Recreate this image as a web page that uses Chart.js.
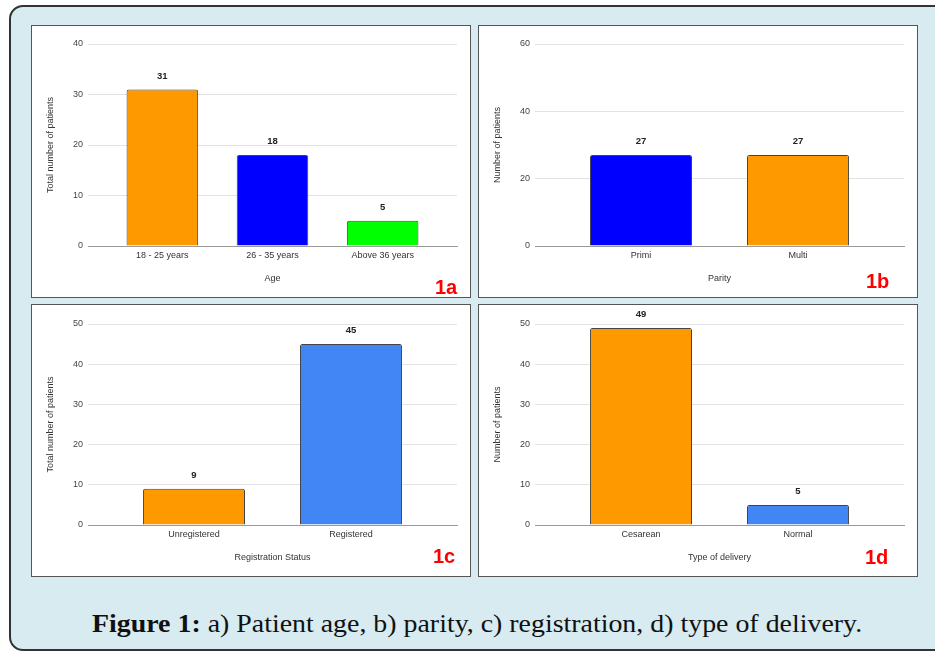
<!DOCTYPE html>
<html>
<head>
<meta charset="utf-8">
<script src="https://cdn.jsdelivr.net/npm/chart.js@4.4.1/dist/chart.umd.min.js"></script>
<style>
  body { margin: 0; width: 935px; height: 651px; overflow: hidden; background: #fff; position: relative; font-family: "Liberation Sans", Arial, sans-serif; }
  #frame { position: absolute; left: 9px; top: 5px; width: 980px; height: 642px; background: #d7ebf0; border: 2px solid #333; border-radius: 14px; }
  .panel { position: absolute; width: 438px; height: 271px; background: #fff; border: 1px solid #555; }
  .panel canvas { display: block; }
  .tag { position: absolute; font: bold 20px "Liberation Sans", Arial, sans-serif; line-height: 20px; color: #f00; }
  #caption { position: absolute; left: 92px; top: 611px; font: 26px "Liberation Serif", "Times New Roman", serif; line-height: 26px; color: #111; white-space: nowrap; transform-origin: 0 0; }
</style>
</head>
<body>
<div id="frame"></div>
<div class="panel" style="left:31px;top:25px"><canvas id="chartA" width="438" height="271"></canvas></div>
<div class="panel" style="left:478px;top:25px"><canvas id="chartB" width="438" height="271"></canvas></div>
<div class="panel" style="left:31px;top:304px"><canvas id="chartC" width="438" height="271"></canvas></div>
<div class="panel" style="left:478px;top:304px"><canvas id="chartD" width="438" height="271"></canvas></div>
<div class="tag" style="left:435px;top:277px">1a</div>
<div class="tag" style="left:866px;top:271px">1b</div>
<div class="tag" style="left:433px;top:546px">1c</div>
<div class="tag" style="left:865px;top:547px">1d</div>
<div id="caption"><b>Figure 1:</b> a) Patient age, b) parity, c) registration, d) type of delivery.</div>

<script>
// 1a - age
const ageLabels = ['18 - 25 years', '26 - 35 years', 'Above 36 years'];
const ageCounts = [31, 18, 5];
const ageTicks = [0, 10, 20, 30, 40];

// 1b - parity
const parityLabels = ['Primi', 'Multi'];
const parityCounts = [27, 27];
const parityTicks = [0, 20, 40, 60];

// 1c - registration
const regLabels = ['Unregistered', 'Registered'];
const regCounts = [9, 45];
const regTicks = [0, 10, 20, 30, 40, 50];

// 1d - type of delivery
const deliveryLabels = ['Cesarean', 'Normal'];
const deliveryCounts = [49, 5];
const deliveryTicks = [0, 10, 20, 30, 40, 50];

const ORANGE = '#ff9900';
const BLUE = '#0000ff';
const GREEN = '#00ff00';
const SKY = '#4285f4';

const FONT = '"Liberation Sans", Arial, sans-serif';
const SIDE_PAD = 0.175; // empty room (in categories) left and right of the bars

// value above each bar
const barValueLabels = {
    id: 'barValueLabels',
    afterDatasetsDraw(chart) {
        const ctx = chart.ctx;
        const values = chart.data.datasets[0].data;
        ctx.save();
        ctx.font = 'bold 9.5px ' + FONT;
        ctx.fillStyle = '#222';
        ctx.textAlign = 'center';
        ctx.textBaseline = 'middle';
        chart.getDatasetMeta(0).data.forEach((bar, i) => {
            ctx.fillText(values[i], bar.x, bar.y - 13.5);
        });
        ctx.restore();
    }
};

function makeChart(id, labels, values, colors, ticks, xTitle, yTitle, topPad) {
    return new Chart(document.getElementById(id).getContext('2d'), {
        type: 'bar',
        data: {
            labels: labels,
            datasets: [{
                data: values,
                backgroundColor: colors,
                borderColor: '#444',
                borderWidth: 1,
                borderRadius: 2,
                categoryPercentage: 0.65,
                barPercentage: 1
            }]
        },
        options: {
            responsive: false,
            animation: false,
            devicePixelRatio: 1,
            layout: { padding: { top: topPad, right: 13, bottom: 0, left: 0 } },
            plugins: { legend: { display: false }, tooltip: { enabled: false } },
            scales: {
                x: {
                    grid: { display: false, drawTicks: false },
                    border: { display: true, color: '#9a9a9a', width: 1 },
                    ticks: { color: '#333', padding: 4, font: { size: 9, family: FONT } },
                    title: { display: true, text: xTitle, color: '#333', padding: { top: 0, bottom: 12.6 }, font: { size: 9, family: FONT } },
                    // widen the category range so the grid runs past the outer bars
                    afterBuildTicks: s => {
                        s._startValue = -0.5 - SIDE_PAD;
                        s._valueRange = s.getLabels().length + 2 * SIDE_PAD;
                    },
                    afterFit: s => { s.height = 51; }
                },
                y: {
                    min: ticks[0],
                    max: ticks[ticks.length - 1],
                    grid: { color: '#e2e2e2', drawTicks: false },
                    border: { display: false },
                    ticks: { stepSize: ticks[1] - ticks[0], color: '#444', padding: 5, font: { size: 9, family: FONT } },
                    title: { display: true, text: yTitle, color: '#333', padding: { top: 13.6, bottom: 0 }, font: { size: 9, family: FONT } },
                    afterFit: s => { s.width = 56; }
                }
            }
        },
        plugins: [barValueLabels]
    });
}

makeChart('chartA', ageLabels, ageCounts, [ORANGE, BLUE, GREEN], ageTicks, 'Age', 'Total number of patients', 18);
makeChart('chartB', parityLabels, parityCounts, [BLUE, ORANGE], parityTicks, 'Parity', 'Number of patients', 18);
makeChart('chartC', regLabels, regCounts, [ORANGE, SKY], regTicks, 'Registration Status', 'Total number of patients', 19);
makeChart('chartD', deliveryLabels, deliveryCounts, [ORANGE, SKY], deliveryTicks, 'Type of delivery', 'Number of patients', 19);

// squeeze caption to the width it has in the figure
const caption = document.getElementById('caption');
caption.style.transform = 'scaleX(' + (770 / caption.offsetWidth) + ')';
</script>
</body>
</html>
